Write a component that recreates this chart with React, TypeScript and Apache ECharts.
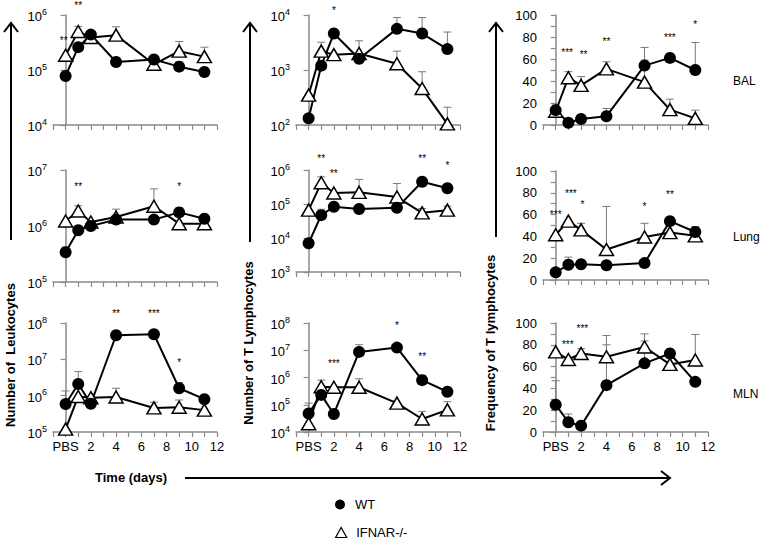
import React, { useEffect, useRef } from 'react';
import * as echarts from 'echarts';

const FONT = 'Liberation Sans, Arial, Helvetica, sans-serif';

// Days sampled (PBS = day 0)
const days = [0, 1, 2, 4, 7, 9, 11];
const xTickText: Record<number, string> = { 0: 'PBS', 2: '2', 4: '4', 6: '6', 8: '8', 10: '10', 12: '12' };
const rowLabels = ['BAL', 'Lung', 'MLN'];

// Number of leukocytes
const leukBalWT = [7.8e4, 2.6e5, 4.4e5, 1.4e5, 1.55e5, 1.15e5, 9.2e4];
const leukBalKO = [1.85e5, 5.0e5, 3.9e5, 4.3e5, 1.27e5, 2.2e5, 1.75e5];
const leukBalWTErr = [null, null, null, null, null, 1.4e5, null];
const leukBalKOErr = [null, 6.2e5, null, 6.1e5, null, 3.3e5, 2.6e5];
const leukBalStars: [number, number, string][] = [[-0.15, 3.4e5, '**'], [1, 1.5e6, '**']];

const leukLungWT = [3.4e5, 8.4e5, 1.0e6, 1.3e6, 1.3e6, 1.75e6, 1.35e6];
const leukLungKO = [1.23e6, 1.85e6, 1.18e6, 1.45e6, 2.25e6, 1.1e6, 1.1e6];
const leukLungWTErr = [4.2e5, null, null, null, null, 2.1e6, 1.55e6];
const leukLungKOErr = [null, 2.3e6, null, 2.0e6, 4.6e6, null, null];
const leukLungStars: [number, number, string][] = [[1, 5e6, '**'], [9, 5e6, '*']];

const leukMlnWT = [5.9e5, 2.1e6, 6.0e5, 4.6e7, 4.9e7, 1.6e6, 8.0e5];
const leukMlnKO = [1.2e5, 9.5e5, 8.8e5, 9.2e5, 4.6e5, 4.8e5, 4.0e5];
const leukMlnWTErr = [1.35e6, 4.6e6, null, null, null, 2.3e6, null];
const leukMlnKOErr = [null, null, null, 1.6e6, 6.6e5, 7.6e5, null];
const leukMlnStars: [number, number, string][] = [[4, 1.8e8, '**'], [7, 1.8e8, '***'], [9, 8e6, '*']];

// Number of T lymphocytes
const tBalWT = [1.32e2, 1.2e3, 4.6e3, 1.6e3, 5.6e3, 4.6e3, 2.4e3];
const tBalKO = [3.5e2, 2.2e3, 1.9e3, 2.0e3, 1.3e3, 4.6e2, 1.05e2];
const tBalWTErr = [null, null, null, null, 9e3, 9e3, 4.9e3];
const tBalKOErr = [null, 3.2e3, null, 3.4e3, 2.2e3, 9.3e2, 2.1e2];
const tBalStars: [number, number, string][] = [[2, 1.23e4, '*']];

const tLungWT = [7e3, 4.7e4, 8.3e4, 7.1e4, 7.7e4, 4.5e5, 2.9e5];
const tLungKO = [6.6e4, 4.2e5, 2.1e5, 2.2e5, 1.6e5, 5.5e4, 6.6e4];
const tLungWTErr = [null, 7e4, null, null, null, 5.5e5, null];
const tLungKOErr = [null, 6.3e5, null, 5.3e5, 4e5, 7.4e4, 8.6e4];
const tLungStars: [number, number, string][] = [[1, 2.2e6, '**'], [2, 8e5, '**'], [9, 2.2e6, '**'], [11, 1.4e6, '*']];

const tMlnWT = [4.8e4, 2.3e5, 4.6e4, 8.7e6, 1.25e7, 8e5, 3e5];
const tMlnKO = [2e4, 4.6e5, 4.4e5, 4.4e5, 1.15e5, 3e4, 6.5e4];
const tMlnWTErr = [1.15e5, null, null, 1.6e7, null, 1.2e6, null];
const tMlnKOErr = [null, 8e5, null, 9e5, null, 5.7e4, 1.3e5];
const tMlnStars: [number, number, string][] = [[2, 3.3e6, '***'], [7, 8e7, '*'], [9, 6e6, '**']];

// Frequency of T lymphocytes (%)
const fBalWT = [13.5, 2, 5.5, 8, 54, 61, 50];
const fBalKO = [12.5, 43, 36, 51, 39, 14, 6];
const fBalWTErr = [19, null, null, 15, 70.5, 64.5, 75];
const fBalKOErr = [null, 48.5, 44, 57.5, 59, 23.5, 13.5];
const fBalStars: [number, number, string][] = [[0.9, 66, '***'], [2.2, 64, '**'], [4, 76, '**'], [9, 80, '***'], [11, 91, '*']];

const fLungWT = [7, 14, 14.5, 13.5, 15.5, 54, 44];
const fLungKO = [41.5, 54, 46, 28, 39.5, 43.5, 40.5];
const fLungWTErr = [null, 21, null, null, null, null, 49];
const fLungKOErr = [null, null, 52, 67.5, 52, null, null];
const fLungStars: [number, number, string][] = [[0, 60, '***'], [1.2, 79, '***'], [2.1, 69, '*'], [7, 67, '*'], [9, 78, '**']];

const fMlnWT = [25, 9, 5.8, 43, 63, 72, 46];
const fMlnKO = [73.5, 66.5, 72, 69, 78, 62, 66];
const fMlnWTErr = [47, 16.5, null, 80, 83.5, null, null];
const fMlnKOErr = [null, null, 76.5, 88.5, 90, null, 89.5];
const fMlnStars: [number, number, string][] = [[0.95, 80.5, '***'], [2.1, 95, '***']];

type Panel = {
  wt: number[]; ko: number[]; wtErr: (number | null)[]; koErr: (number | null)[];
  stars: [number, number, string][]; log: boolean; min: number; max: number;
};

const panels: Panel[] = [
  { wt: leukBalWT, ko: leukBalKO, wtErr: leukBalWTErr, koErr: leukBalKOErr, stars: leukBalStars, log: true, min: 1e4, max: 1e6 },
  { wt: leukLungWT, ko: leukLungKO, wtErr: leukLungWTErr, koErr: leukLungKOErr, stars: leukLungStars, log: true, min: 1e5, max: 1e7 },
  { wt: leukMlnWT, ko: leukMlnKO, wtErr: leukMlnWTErr, koErr: leukMlnKOErr, stars: leukMlnStars, log: true, min: 1e5, max: 1e8 },
  { wt: tBalWT, ko: tBalKO, wtErr: tBalWTErr, koErr: tBalKOErr, stars: tBalStars, log: true, min: 1e2, max: 1e4 },
  { wt: tLungWT, ko: tLungKO, wtErr: tLungWTErr, koErr: tLungKOErr, stars: tLungStars, log: true, min: 1e3, max: 1e6 },
  { wt: tMlnWT, ko: tMlnKO, wtErr: tMlnWTErr, koErr: tMlnKOErr, stars: tMlnStars, log: true, min: 1e4, max: 1e8 },
  { wt: fBalWT, ko: fBalKO, wtErr: fBalWTErr, koErr: fBalKOErr, stars: fBalStars, log: false, min: 0, max: 100 },
  { wt: fLungWT, ko: fLungKO, wtErr: fLungWTErr, koErr: fLungKOErr, stars: fLungStars, log: false, min: 0, max: 100 },
  { wt: fMlnWT, ko: fMlnKO, wtErr: fMlnWTErr, koErr: fMlnKOErr, stars: fMlnStars, log: false, min: 0, max: 100 },
];

// grid layout [left, top, width, height]
const gridBoxes = [
  [53, 15, 164, 110], [53, 170, 164, 112], [53, 323, 164, 109],
  [296, 15, 164, 110], [296, 170, 164, 102], [296, 323, 164, 109],
  [543, 15, 165, 110], [543, 171, 165, 109], [543, 323, 165, 109],
];

const AXIS_COLOR = '#8a8a8a';
const ERR_COLOR = '#7a7a7a';

function buildOption() {
  const grid: any[] = [];
  const xAxis: any[] = [];
  const yAxis: any[] = [];
  const series: any[] = [];
  panels.forEach((p, i) => {
    const [l, t, w, h] = gridBoxes[i];
    grid.push({ left: l, top: t, width: w, height: h, containLabel: false });
    const bottomRow = i % 3 === 2;
    xAxis.push({
      gridIndex: i, type: 'value', min: -1, max: 12, interval: 1,
      axisLine: { lineStyle: { color: AXIS_COLOR, width: 1.5 } },
      axisTick: { length: 5, lineStyle: { color: AXIS_COLOR, width: 1.2 } },
      splitLine: { show: false },
      axisLabel: {
        show: bottomRow, color: '#000', fontSize: 13, fontFamily: FONT, margin: 8,
        formatter: (v: number) => xTickText[Math.round(v)] ?? '',
      },
    });
    if (p.log) {
      yAxis.push({
        gridIndex: i, type: 'log', logBase: 10, min: p.min, max: p.max,
        axisLine: { show: true, lineStyle: { color: AXIS_COLOR, width: 1.5 } },
        axisTick: { show: true, length: 5, lineStyle: { color: AXIS_COLOR, width: 1.2 } },
        splitLine: { show: false },
        minorTick: { show: false },
        axisLabel: {
          color: '#000', fontFamily: FONT, margin: 6,
          formatter: (v: number) => `{b|10}{s|${Math.round(Math.log10(v))}}`,
          rich: {
            b: { fontSize: 13, lineHeight: 16, verticalAlign: 'bottom', fontFamily: FONT, color: '#000' },
            s: { fontSize: 9, lineHeight: 10, verticalAlign: 'top', fontFamily: FONT, color: '#000' },
          },
        },
      });
    } else {
      yAxis.push({
        gridIndex: i, type: 'value', min: 0, max: 100, interval: 10,
        axisLine: { show: true, lineStyle: { color: AXIS_COLOR, width: 1.5 } },
        axisTick: { show: true, length: 5, lineStyle: { color: AXIS_COLOR, width: 1.2 } },
        splitLine: { show: false },
        axisLabel: {
          color: '#000', fontSize: 13, fontFamily: FONT, margin: 6,
          formatter: (v: number) => (Math.round(v) % 20 === 0 ? String(Math.round(v)) : ''),
        },
      });
    }

    const errSeries = (vals: number[], errs: (number | null)[], name: string) => ({
      type: 'custom', name, xAxisIndex: i, yAxisIndex: i, z: 1, silent: true,
      dimensions: ['x', 'v', 'hi'],
      encode: { x: 0, y: 1 },
      data: days.map((d, j) => (errs[j] != null ? [d, vals[j], errs[j]] : null)).filter((e) => e !== null),
      renderItem: (_params: any, api: any) => {
        const x = api.value(0);
        const p0 = api.coord([x, api.value(1)]);
        const p1 = api.coord([x, api.value(2)]);
        return {
          type: 'group',
          children: [
            { type: 'line', shape: { x1: p0[0], y1: p0[1], x2: p1[0], y2: p1[1] }, style: { stroke: ERR_COLOR, lineWidth: 1 } },
            { type: 'line', shape: { x1: p1[0] - 4, y1: p1[1], x2: p1[0] + 4, y2: p1[1] }, style: { stroke: ERR_COLOR, lineWidth: 1 } },
          ],
        };
      },
    });
    series.push(errSeries(p.wt, p.wtErr, 'errWT' + i));
    series.push(errSeries(p.ko, p.koErr, 'errKO' + i));

    series.push({
      type: 'line', name: 'IFNAR-/-', xAxisIndex: i, yAxisIndex: i, z: 3,
      data: days.map((d, j) => [d, p.ko[j]]),
      symbol: 'triangle', symbolSize: [14, 12], showSymbol: true,
      itemStyle: { color: '#fff', borderColor: '#000', borderWidth: 1.5 },
      lineStyle: { color: '#000', width: 2 },
      emphasis: { disabled: true },
    });
    series.push({
      type: 'line', name: 'WT', xAxisIndex: i, yAxisIndex: i, z: 3,
      data: days.map((d, j) => [d, p.wt[j]]),
      symbol: 'circle', symbolSize: 12, showSymbol: true,
      itemStyle: { color: '#000', borderColor: '#000', borderWidth: 0 },
      lineStyle: { color: '#000', width: 2 },
      emphasis: { disabled: true },
    });
    const stars = p.stars;
    series.push({
      type: 'custom', name: 'stars' + i, xAxisIndex: i, yAxisIndex: i, z: 5, silent: true, clip: false,
      dimensions: ['x', 'y'],
      encode: { x: 0, y: 1 },
      data: stars.map((s) => [s[0], s[1]]),
      renderItem: (params: any, api: any) => {
        const pt = api.coord([api.value(0), api.value(1)]);
        return {
          type: 'text', x: pt[0], y: pt[1],
          style: {
            text: stars[params.dataIndex][2], fill: '#000', fontSize: 10, fontFamily: FONT,
            align: 'center', verticalAlign: 'middle',
          },
        };
      },
    });
  });

  const txt = (x: number, y: number, text: string, opts: any = {}) => ({
    type: 'text', x, y, rotation: opts.rotation ?? 0, silent: true,
    style: {
      text, fill: '#000', fontFamily: FONT, fontSize: opts.fontSize ?? 13,
      fontWeight: opts.bold ? 'bold' : 'normal', align: opts.align ?? 'center', verticalAlign: 'middle',
    },
  });
  const vArrow = (x: number, y1: number, y2: number) => [
    { type: 'line', silent: true, shape: { x1: x, y1, x2: x, y2 }, style: { stroke: '#000', lineWidth: 2 } },
    { type: 'polyline', silent: true, shape: { points: [[x - 7, y1 + 9], [x, y1], [x + 7, y1 + 9]] }, style: { stroke: '#000', lineWidth: 2, fill: null } },
  ];

  const graphic: any[] = [
    ...vArrow(11, 23, 240),
    ...vArrow(250, 23, 242),
    ...vArrow(496, 23, 237),
    txt(10, 355, 'Number of  Leukocytes', { rotation: Math.PI / 2, bold: true }),
    txt(248, 343, 'Number of T Lymphocytes', { rotation: Math.PI / 2, bold: true }),
    txt(490, 343, 'Frequency of T lymphocytes', { rotation: Math.PI / 2, bold: true }),
    txt(131, 477, 'Time (days)', { bold: true }),
    { type: 'line', silent: true, shape: { x1: 185, y1: 478, x2: 669, y2: 478 }, style: { stroke: '#000', lineWidth: 2 } },
    { type: 'polyline', silent: true, shape: { points: [[661, 471], [670, 478], [661, 485]] }, style: { stroke: '#000', lineWidth: 2, fill: null } },
    txt(733, 81, rowLabels[0], { align: 'left', fontSize: 12 }),
    txt(733, 237, rowLabels[1], { align: 'left', fontSize: 12 }),
    txt(733, 394, rowLabels[2], { align: 'left', fontSize: 12 }),
  ];

  const legendBase = {
    orient: 'horizontal', left: 335, itemWidth: 20, itemHeight: 10, padding: 0,
    selectedMode: false,
    textStyle: { fontSize: 13, fontFamily: FONT, color: '#000' },
  };

  return {
    animation: false,
    backgroundColor: '#fff',
    textStyle: { fontFamily: FONT },
    grid, xAxis, yAxis, series, graphic,
    legend: [
      { ...legendBase, top: 498, data: [{ name: 'WT', icon: 'circle', itemStyle: { color: '#000', borderWidth: 0 } }] },
      { ...legendBase, top: 526, data: [{ name: 'IFNAR-/-', icon: 'path://M5,0L10,9L0,9Z', itemStyle: { color: '#fff', borderColor: '#000', borderWidth: 1.2 } }] },
    ],
  };
}

export default function App() {
  const ref = useRef<HTMLDivElement>(null);
  useEffect(() => {
    document.body.style.margin = '0';
    if (!ref.current) return;
    const chart = echarts.init(ref.current, undefined, { renderer: 'svg' });
    chart.setOption(buildOption() as any);
    return () => chart.dispose();
  }, []);
  return <div ref={ref} style={{ width: 764, height: 542 }} />;
}
